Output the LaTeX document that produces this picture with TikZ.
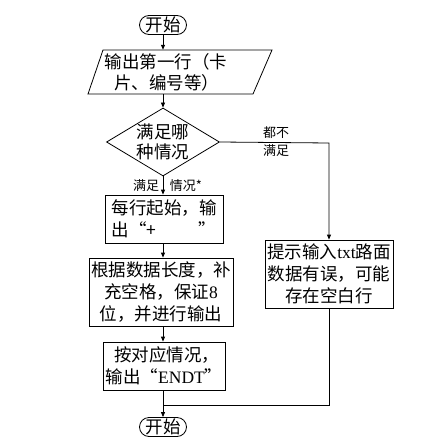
\documentclass[tikz,border=0pt]{standalone}
\usepackage{fontspec}
\setmainfont{Noto Sans CJK SC}
\newfontfamily\latinser{Liberation Serif}
\usetikzlibrary{shapes.geometric,shapes.misc,arrows.meta}
\begin{document}
\begin{tikzpicture}[x=1pt,y=-1pt,
  every node/.style={inner sep=0pt},
  base/.style={draw, line width=0.8pt, font=\fontsize{17.5}{22}\selectfont, align=center},
  term/.style={base, rounded rectangle, minimum width=47pt, minimum height=19pt},
  procbox/.style={base, rectangle},
  lbl/.style={font=\fontsize{13}{18}\selectfont, align=center},
  conn/.style={line width=0.8pt, -{Triangle[length=5pt,width=4pt]}},
  plain/.style={line width=0.8pt}]
\useasboundingbox (0,0) rectangle (420,441);
\node[term] (start) at (163,25) {开始};
\draw[line width=0.8pt] (103,50) -- (272,50) -- (253,94) -- (88,94) -- cycle;
\node[font=\fontsize{17.5}{21}\selectfont, align=left, minimum height=44pt] (out1) at (166,72) {输出第一行（卡\\\hspace*{0.55em}片、编号等）};
\node[base, diamond, minimum width=113pt, minimum height=68pt] (dec) at (163,142) {};
\node[font=\fontsize{17.5}{20}\selectfont, align=center] (dect) at (163,142) {满足哪\\种情况};
\node[procbox, minimum width=118pt, minimum height=48pt, align=left] (b1) at (164,219) {每行起始，输\\出“+\hspace{2.4em}”};
\node[procbox, minimum width=144pt, minimum height=68pt] (b2) at (161,292) {根据数据长度，补\\充空格，保证{\latinser 8}\\位，并进行输出};
\node[procbox, minimum width=122pt, minimum height=48pt, align=left] (b3) at (164,366) {\hspace*{0.5em}按对应情况，\\输出“{\latinser ENDT}”};
\node[procbox, minimum width=128pt, minimum height=68pt] (err) at (329,274) {提示输入{\latinser txt}路面\\数据有误，可能\\存在空白行};
\node[term] (end) at (163,427) {开始};
\node[lbl] (lno) at (276,142) {都不\\满足};
\node[lbl] (lyes1) at (146,186) {满足};
\node[lbl] (lyes2) at (186,186) {情况*};
\coordinate (merge) at (163,405);
\coordinate (rturn) at (329,143);
\coordinate (rmerge) at (329,405);
\draw[conn] (start.south) -- (start.south |- out1.north);
\draw[conn] (start.south |- out1.south) -- (dec.north);
\draw[conn] (dec.south) -- (dec.south |- b1.north);
\draw[conn] (dec.south |- b1.south) -- (dec.south |- b2.north);
\draw[conn] (dec.south |- b2.south) -- (dec.south |- b3.north);
\draw[plain] (dec.south |- b3.south) -- (merge);
\draw[conn] (merge) -- (end.north);
\draw[conn] (dec.east) -- (rturn) -- (err.north);
\draw[plain] (err.south) -- (rmerge) -- (merge);
\end{tikzpicture}
\end{document}
